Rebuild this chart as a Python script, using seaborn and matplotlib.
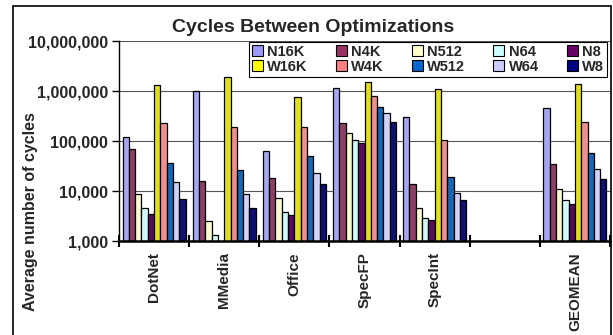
import matplotlib
matplotlib.use("Agg")
import matplotlib.pyplot as plt
import matplotlib.patches as mpatches
from matplotlib.ticker import FixedLocator, NullLocator
import seaborn as sns
import pandas as pd
import numpy as np

categories = ["DotNet", "MMedia", "Office", "SpecFP", "SpecInt", "", "GEOMEAN"]
series = ["N16K", "N4K", "N512", "N64", "N8", "W16K", "W4K", "W512", "W64", "W8"]
colors = ["#9999FF", "#993366", "#FFFFCC", "#CCFFFF", "#660066",
          "#FFFF00", "#FF8080", "#0066CC", "#CCCCFF", "#000080"]

nan = np.nan
N16K = [120000, 1020000, 64000, 1170000, 297000, nan, 450000]
N4K = [68000, 16100, 18200, 229000, 13600, nan, 34000]
N512 = [8600, 2550, 7200, 142000, 4600, nan, 10800]
N64 = [4600, 1300, 3800, 105000, 2840, nan, 6500]
N8 = [3400, 950, 3300, 91000, 2590, nan, 5500]
W16K = [1340000, 1880000, 747000, 1490000, 1110000, nan, 1360000]
W4K = [229000, 190000, 190000, 794000, 103000, nan, 240000]
W512 = [35700, 25900, 50000, 471000, 19000, nan, 56700]
W64 = [15400, 8600, 22600, 363000, 9100, nan, 27500]
W8 = [6900, 4600, 13600, 240000, 6500, nan, 17400]

ytick_values = [1000, 10000, 100000, 1000000, 10000000]
ytick_labels = ["1,000", "10,000", "100,000", "1,000,000", "10,000,000"]

values = {"N16K": N16K, "N4K": N4K, "N512": N512, "N64": N64, "N8": N8,
          "W16K": W16K, "W4K": W4K, "W512": W512, "W64": W64, "W8": W8}

rows = []
for s in series:
    for c, v in zip(categories, values[s]):
        rows.append({"category": c, "series": s, "value": v})
df = pd.DataFrame(rows)

sns.set_style("white")
plt.rcParams["font.family"] = ["Liberation Sans", "DejaVu Sans"]
plt.rcParams["font.weight"] = "bold"

fig = plt.figure(figsize=(6.13, 3.35), dpi=100)
W, H = 613, 335
ax = fig.add_axes([119 / W, 1 - 241 / H, (610 - 119) / W, 200 / H])

sns.barplot(data=df, x="category", y="value", hue="series",
            order=categories, hue_order=series, palette=colors,
            width=0.9, edgecolor="black", linewidth=0.9, ax=ax,
            legend=False)

ax.set_yscale("log")
ax.set_ylim(1000, 10000000)
ax.set_xlim(-0.5, len(categories) - 0.5)

ax.yaxis.set_major_locator(FixedLocator(ytick_values))
ax.yaxis.set_minor_locator(NullLocator())
ax.set_yticklabels(ytick_labels, fontsize=11.5, fontweight="bold")
ax.tick_params(axis="y", which="major", direction="out", length=5, width=1,
               color="black", pad=3, left=True)
ax.yaxis.grid(True, color="#555555", linewidth=0.8)
ax.set_axisbelow(True)

# x ticks: boundaries as major ticks, labels at centers as minor
ax.xaxis.set_major_locator(FixedLocator(np.arange(-0.5, len(categories), 1.0)))
ax.set_xticklabels([""] * (len(categories) + 1))
ax.set_xticks(np.arange(len(categories)), labels=categories, minor=True)
for lab in ax.get_xticklabels(minor=True):
    lab.set_rotation(90)
    lab.set_fontsize(11)
    lab.set_fontweight("bold")
ax.tick_params(axis="x", which="major", direction="inout", length=9, width=1.5,
               color="black", bottom=True)
ax.tick_params(axis="x", which="minor", length=0, pad=8)

ax.set_xlabel("")
ax.set_ylabel("")

for sp in ["top", "right"]:
    ax.spines[sp].set_visible(False)
ax.spines["left"].set_color("black")
ax.spines["left"].set_linewidth(1.0)
ax.spines["bottom"].set_color("black")
ax.spines["bottom"].set_linewidth(1.8)

# legend
handles = []
labels_order = []
for n, w in zip(series[:5], series[5:]):
    for s in (n, w):
        handles.append(mpatches.Patch(facecolor=colors[series.index(s)],
                                      edgecolor="black", linewidth=0.8))
        labels_order.append(s)
leg = ax.legend(handles, labels_order, ncol=5, loc="upper left",
                bbox_to_anchor=(0.265, 0.81, 0.729, 0.185), mode="expand",
                frameon=True, fancybox=False, framealpha=1, edgecolor="black",
                prop={"weight": "bold", "size": 10.5}, handlelength=0.75,
                handleheight=0.75, handletextpad=0.3, borderpad=0.2,
                labelspacing=0.05, columnspacing=0.5, borderaxespad=0)
leg.get_frame().set_linewidth(0.8)

fig.text(313 / W, 1 - 28 / H, "Cycles Between Optimizations", ha="center",
         va="center", fontsize=14, fontweight="bold")
fig.text(31 / W, 1 - 212 / H, "Average number of cycles", rotation=90,
         ha="center", va="center", fontsize=11.5, fontweight="bold")

border = mpatches.Rectangle((13 / W, -0.05), (611 - 13) / W, 1.05 - 6 / H,
                            transform=fig.transFigure, fill=False,
                            edgecolor="black", linewidth=1.2)
fig.patches.append(border)

fig.savefig("out.png", dpi=100)
